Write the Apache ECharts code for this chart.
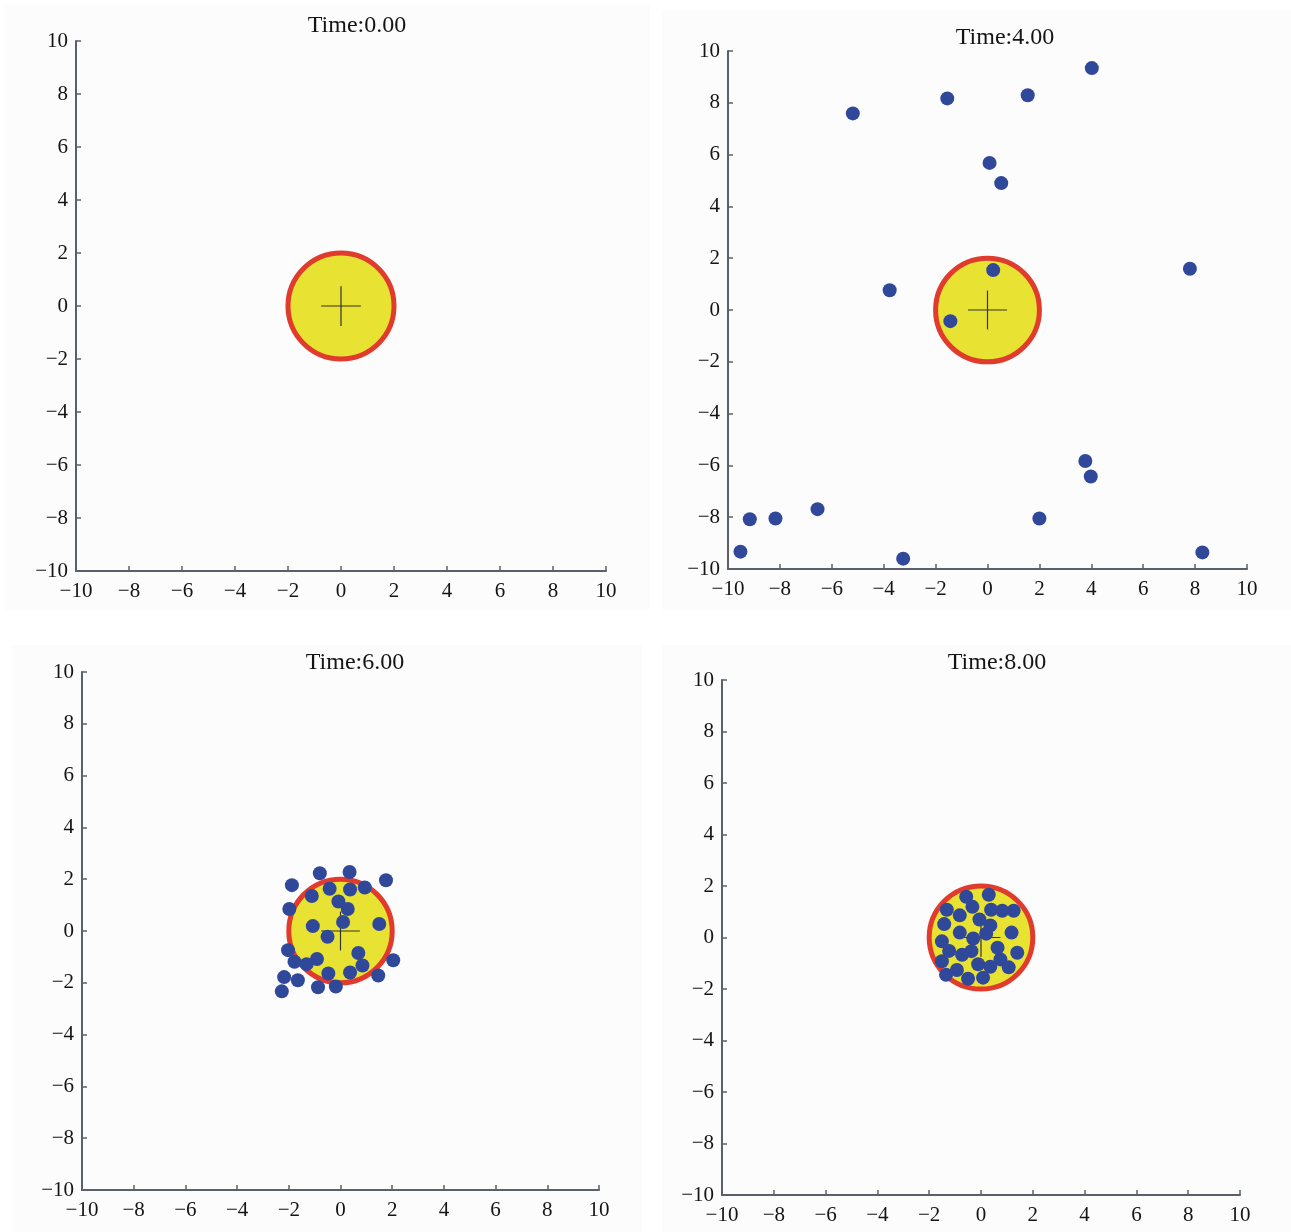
<!DOCTYPE html>
<html>
<head>
<meta charset="utf-8">
<title>Time snapshots</title>
<script src="https://cdn.jsdelivr.net/npm/echarts@6/dist/echarts.min.js"></script>
<style>
  html, body { margin: 0; padding: 0; background: #ffffff; }
  #chart { width: 1291px; height: 1232px; }
</style>
</head>
<body>
<div id="chart"></div>
<script>
// Snapshot times shown in the four panels
const times = ['0.00', '4.00', '6.00', '8.00'];

// Target region: centre and radius
const target = [[0, 0, 2]];
// Half length of the centre cross
const crossHalf = 0.75;

// Agent positions at each time [x, y]
const agents0 = [];
const agents4 = [
  [-5.19, 7.59], [-1.55, 8.17], [1.55, 8.29], [4.02, 9.34],
  [0.08, 5.68], [0.53, 4.90], [7.80, 1.59], [-3.77, 0.76],
  [0.22, 1.54], [-1.43, -0.43], [3.77, -5.83], [3.98, -6.43],
  [-6.55, -7.69], [-8.17, -8.05], [-9.16, -8.08], [2.00, -8.05],
  [-9.52, -9.33], [-3.25, -9.60], [8.28, -9.36]
];
const agents6 = [
  [-0.80, 2.23], [0.35, 2.28], [1.76, 1.96], [-1.88, 1.77],
  [-1.11, 1.35], [-0.42, 1.63], [0.37, 1.60], [0.94, 1.68],
  [-0.08, 1.14], [0.28, 0.85], [-1.98, 0.85], [-1.07, 0.19],
  [0.10, 0.35], [1.50, 0.27], [-0.50, -0.22], [-2.03, -0.74],
  [0.69, -0.85], [-1.78, -1.19], [-1.31, -1.28], [-0.91, -1.08],
  [0.85, -1.33], [2.04, -1.13], [-2.18, -1.78], [-1.65, -1.90],
  [-0.47, -1.64], [0.37, -1.60], [1.46, -1.72], [-0.87, -2.17],
  [-0.18, -2.14], [-2.27, -2.33]
];
const agents8 = [
  [-0.57, 1.58], [0.30, 1.66], [-1.32, 1.08], [-0.33, 1.19],
  [0.39, 1.08], [0.82, 1.04], [1.26, 1.04], [-0.82, 0.86],
  [-0.06, 0.70], [-1.42, 0.52], [0.36, 0.47], [1.18, 0.19],
  [-0.82, 0.19], [0.20, 0.15], [-0.30, -0.04], [-1.51, -0.15],
  [0.64, -0.40], [-1.23, -0.52], [-0.73, -0.67], [-0.37, -0.53],
  [1.40, -0.59], [-1.51, -0.92], [-0.11, -1.04], [0.75, -0.85],
  [0.36, -1.14], [1.07, -1.16], [-0.93, -1.26], [-1.35, -1.45],
  [-0.50, -1.60], [0.08, -1.56]
];
const agentSets = [agents0, agents4, agents6, agents8];

// Panel placement (plot area in pixels) and title anchor
const panels = [
  { left: 76,  top: 41,  width: 530, height: 530, tx: 352,  ty: 9 },
  { left: 728, top: 51,  width: 519, height: 518, tx: 1000, ty: 21 },
  { left: 82,  top: 672, width: 517, height: 518, tx: 350,  ty: 646 },
  { left: 722, top: 680, width: 518, height: 515, tx: 992,  ty: 646 }
];

const AXIS_COLOR = '#59606a';
const FONT = 'Liberation Serif';

function tickFormat(v) {
  return (v < 0 ? '\u2212' : '') + Math.abs(v);
}

function axisCommon(i) {
  return {
    type: 'value',
    gridIndex: i,
    min: -10,
    max: 10,
    interval: 2,
    axisLine: { show: true, onZero: false, lineStyle: { color: AXIS_COLOR, width: 2 } },
    axisTick: { show: true, inside: true, length: 5, lineStyle: { color: AXIS_COLOR, width: 1.5 } },
    splitLine: { show: false },
    axisLabel: {
      fontFamily: FONT, fontSize: 21, color: '#141414',
      formatter: tickFormat
    }
  };
}

function renderTarget(params, api) {
  const c = api.coord([api.value(0), api.value(1)]);
  const r = api.size([api.value(2), api.value(2)]);
  const h = api.size([crossHalf, crossHalf]);
  return {
    type: 'group',
    children: [
      {
        type: 'ellipse',
        shape: { cx: c[0], cy: c[1], rx: r[0], ry: r[1] },
        style: { fill: '#e8e233', stroke: '#e03b2c', lineWidth: 5 }
      },
      {
        type: 'line',
        shape: { x1: c[0] - h[0], y1: c[1], x2: c[0] + h[0], y2: c[1] },
        style: { stroke: '#333333', lineWidth: 1.2 }
      },
      {
        type: 'line',
        shape: { x1: c[0], y1: c[1] - h[1], x2: c[0], y2: c[1] + h[1] },
        style: { stroke: '#333333', lineWidth: 1.2 }
      }
    ]
  };
}

const grids = [], xAxes = [], yAxes = [], series = [], titles = [];
panels.forEach((p, i) => {
  grids.push({ left: p.left, top: p.top, width: p.width, height: p.height, containLabel: false });
  xAxes.push(Object.assign(axisCommon(i), {
    position: 'bottom',
    axisLabel: Object.assign(axisCommon(i).axisLabel, { margin: 10 })
  }));
  yAxes.push(Object.assign(axisCommon(i), {
    position: 'left',
    axisLabel: Object.assign(axisCommon(i).axisLabel, { margin: 8 })
  }));
  titles.push({
    text: 'Time:' + times[i],
    left: p.tx,
    top: p.ty,
    textAlign: 'center',
    textStyle: { fontFamily: FONT, fontSize: 24, fontWeight: 'normal', color: '#141414' }
  });
  series.push({
    type: 'custom',
    xAxisIndex: i,
    yAxisIndex: i,
    data: target,
    renderItem: renderTarget,
    silent: true,
    z: 2
  });
  series.push({
    type: 'scatter',
    xAxisIndex: i,
    yAxisIndex: i,
    data: agentSets[i],
    symbol: 'circle',
    symbolSize: 14,
    itemStyle: { color: '#30489a', opacity: 1 },
    silent: true,
    z: 3
  });
});

const chart = echarts.init(document.getElementById('chart'), null, { renderer: 'canvas' });
chart.setOption({
  backgroundColor: '#ffffff',
  animation: false,
  graphic: [
    { type: 'rect', z: -10, shape: { x: 4, y: 4, width: 646, height: 606 }, style: { fill: '#fcfcfc' } },
    { type: 'rect', z: -10, shape: { x: 662, y: 10, width: 629, height: 600 }, style: { fill: '#fcfcfc' } },
    { type: 'rect', z: -10, shape: { x: 12, y: 645, width: 630, height: 587 }, style: { fill: '#fcfcfc' } },
    { type: 'rect', z: -10, shape: { x: 662, y: 645, width: 629, height: 587 }, style: { fill: '#fcfcfc' } }
  ],
  title: titles,
  grid: grids,
  xAxis: xAxes,
  yAxis: yAxes,
  series: series
});
</script>
</body>
</html>
